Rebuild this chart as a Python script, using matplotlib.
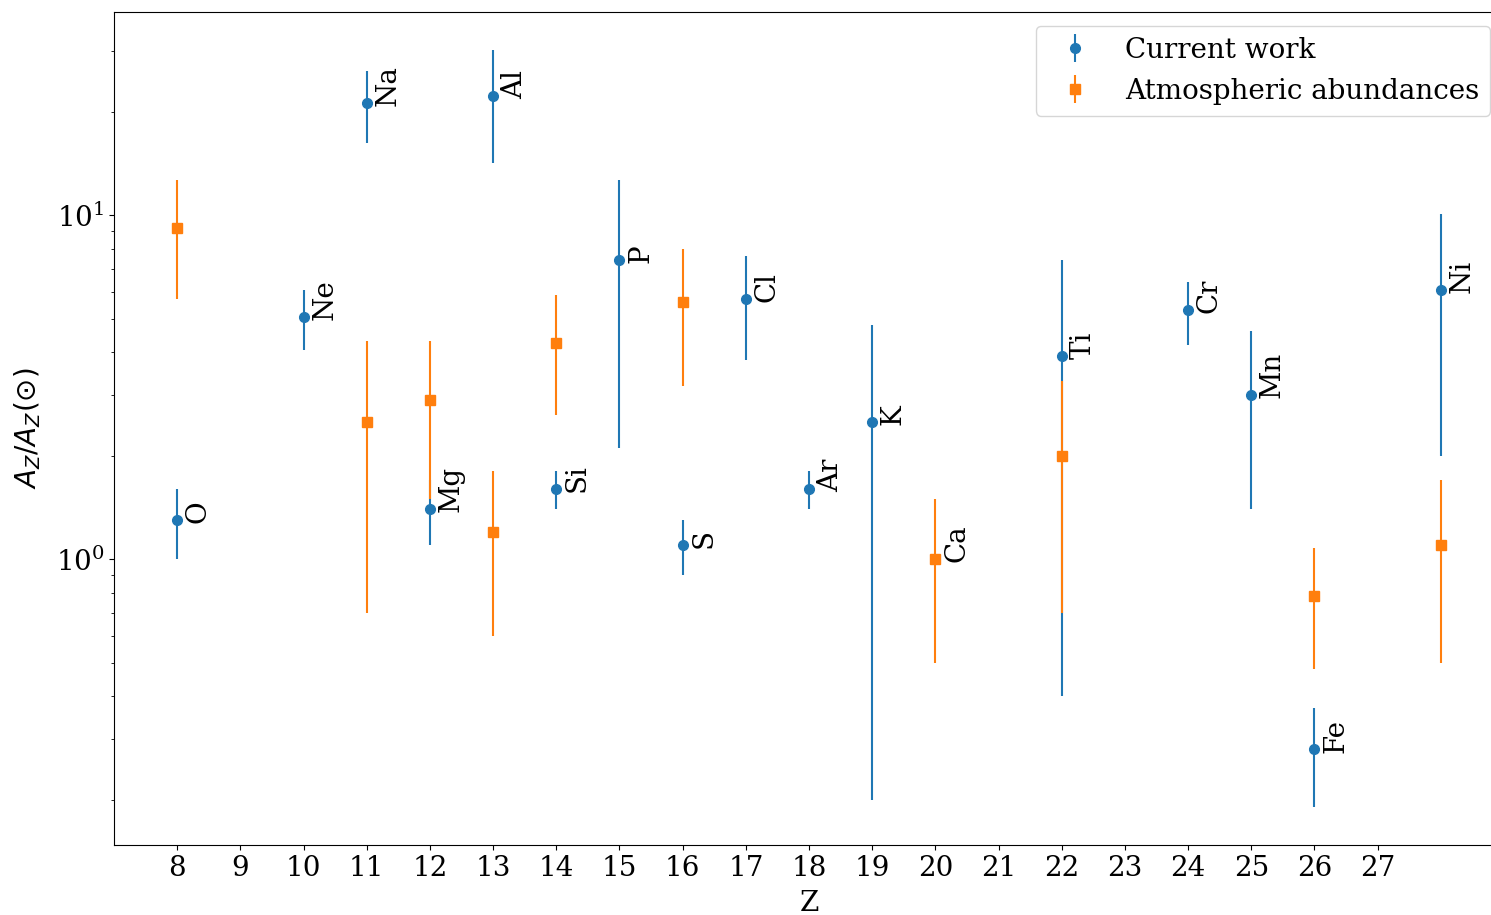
import matplotlib
matplotlib.use("Agg")
import matplotlib.pyplot as plt
import numpy as np

plt.rcParams["font.family"] = "DejaVu Serif"
plt.rcParams["font.size"] = 20

# Abundance ratios from the present analysis
cur_elements = ["O", "Ne", "Na", "Mg", "Al", "Si", "P", "S", "Cl", "Ar",
                "K", "Ti", "Cr", "Mn", "Fe", "Ni"]
cur_Z = [8, 10, 11, 12, 13, 14, 15, 16, 17, 18, 19, 22, 24, 25, 26, 28]
cur_val = [1.3, 5.05, 21.2, 1.4, 22.2, 1.6, 7.4, 1.1, 5.7, 1.6,
           2.5, 3.9, 5.3, 3.0, 0.28, 6.05]
cur_err = [0.3, 1.0, 5.0, 0.3, 8.0, 0.2, 5.3, 0.2, 1.9, 0.2,
           2.3, 3.5, 1.1, 1.6, 0.09, 4.05]

# Atmospheric abundance ratios
atm_elements = ["O", "Na", "Mg", "Al", "Si", "S", "Ca", "Ti", "Fe", "Ni"]
atm_Z = [8, 11, 12, 13, 14, 16, 20, 22, 26, 28]
atm_val = [9.2, 2.5, 2.9, 1.2, 4.25, 5.6, 1.0, 2.0, 0.78, 1.1]
atm_err = [3.5, 1.8, 1.4, 0.6, 1.63, 2.4, 0.5, 1.3, 0.3, 0.6]

z_ticks = list(range(8, 28))

W, H = 1491, 915
fig = plt.figure(figsize=(W / 100, H / 100), dpi=100)
ax = fig.add_axes([114 / W, 1 - 845 / H, (1504 - 114) / W, (845 - 12) / H])

ax.errorbar(cur_Z, cur_val, yerr=cur_err, fmt="o", color="C0", ms=7,
            label="Current work")
ax.errorbar(atm_Z, atm_val, yerr=atm_err, fmt="s", color="C1", ms=6.5,
            label="Atmospheric abundances")

ax.set_yscale("log")
ax.set_xlim(7, 29)
ax.set_ylim(0.1477, 39.0)
ax.set_xticks(z_ticks)

# Element symbols next to each point
labelled = {}
for el, z, v in zip(atm_elements, atm_Z, atm_val):
    labelled[el] = (z, v)
for el, z, v in zip(cur_elements, cur_Z, cur_val):
    labelled[el] = (z, v)
for el, (z, v) in labelled.items():
    ax.annotate(el, (z, v), xytext=(5.5, -2.2), textcoords="offset points",
                rotation=90, va="bottom", ha="left")

ax.set_xlabel("Z", labelpad=6)
ax.set_ylabel(r"$A_Z/A_Z(\odot)$", labelpad=9)
ax.legend(loc="upper right")

fig.savefig("out.png", dpi=100)
